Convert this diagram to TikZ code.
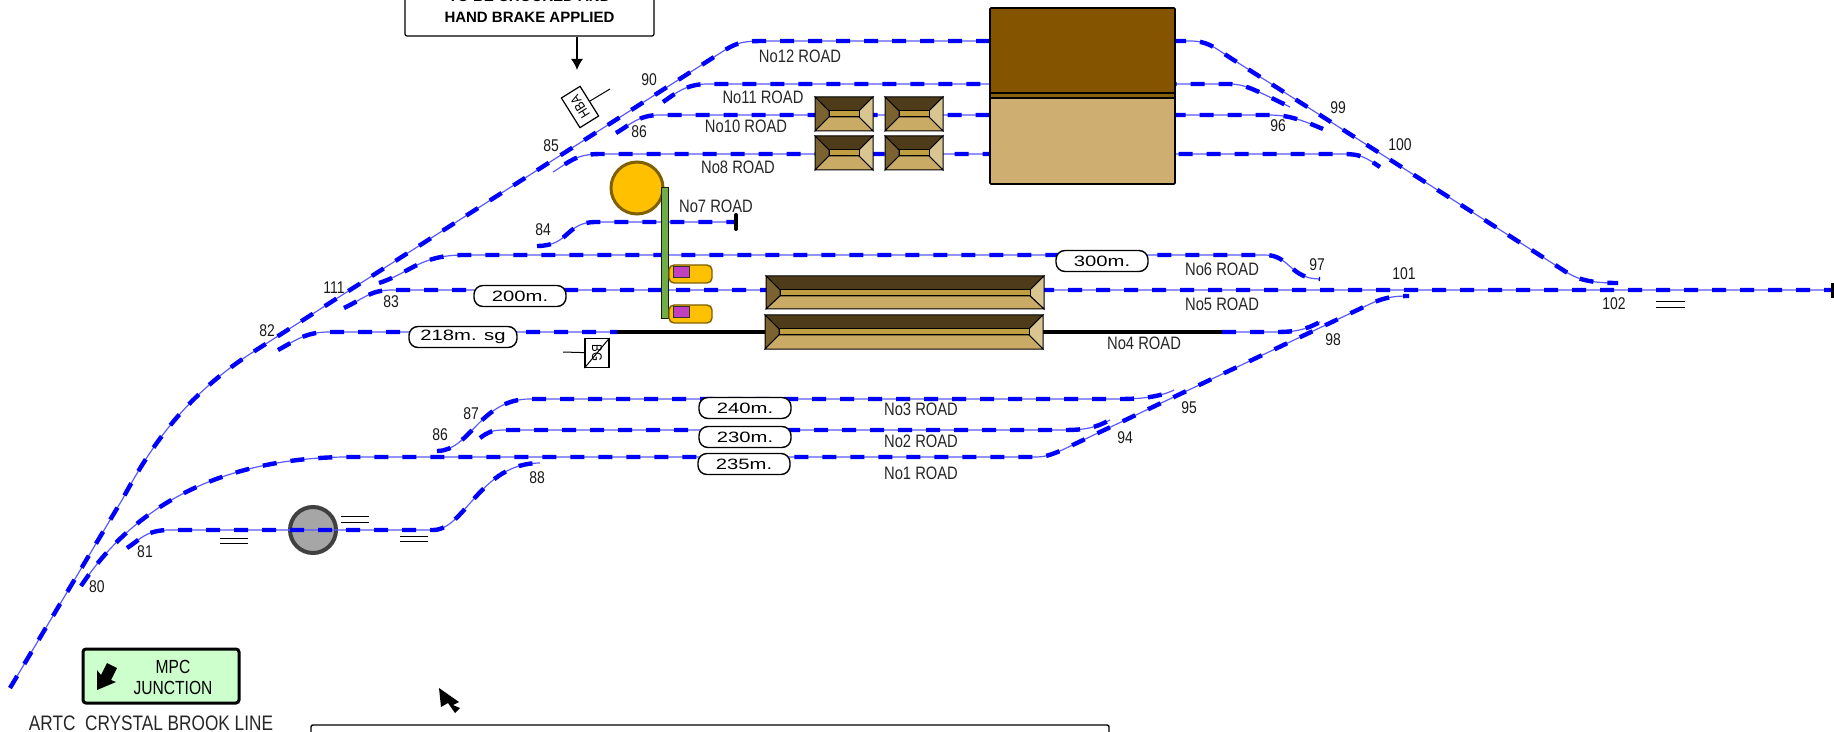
\documentclass[tikz,border=0pt]{standalone}
\usepackage{fontspec}
\usepackage{tikz}
\usetikzlibrary{arrows,arrows.meta,shapes,positioning,shapes.geometric}
\newfontfamily\roadfont[FakeStretch=0.82]{Liberation Sans}
\newfontfamily\widefont[FakeStretch=1.35]{Liberation Sans}
\newfontfamily\signfont{Liberation Sans}
\definecolor{trackblue}{RGB}{0,0,255}
\definecolor{shedbrown}{RGB}{133,84,0}
\definecolor{shedstrip}{RGB}{135,98,10}
\definecolor{shedtan}{RGB}{207,174,114}
\definecolor{bevtop}{RGB}{77,59,25}
\definecolor{bevleft}{RGB}{122,99,48}
\definecolor{bevright}{RGB}{217,197,143}
\definecolor{bevbot}{RGB}{201,171,102}
\definecolor{bevin}{RGB}{191,159,66}
\definecolor{tableyellow}{RGB}{255,192,0}
\definecolor{tablerim}{RGB}{127,96,0}
\definecolor{barpurple}{RGB}{192,64,192}
\definecolor{bargreen}{RGB}{112,173,71}
\definecolor{mintbox}{RGB}{204,255,204}
\newcommand{\bevelblock}[4]{%
    \path[draw=black, line width=.5pt, fill=bevtop] (#1,#2) -- ({#1+#3},#2) -- ({#1+#3-14},{#2+14}) -- ({#1+14},{#2+14}) -- cycle;
    \path[draw=black, line width=.5pt, fill=bevleft] (#1,#2) -- ({#1+14},{#2+14}) -- ({#1+14},{#2+20}) -- (#1,{#2+#4}) -- cycle;
    \path[draw=black, line width=.5pt, fill=bevright] ({#1+#3},#2) -- ({#1+#3-14},{#2+14}) -- ({#1+#3-14},{#2+20}) -- ({#1+#3},{#2+#4}) -- cycle;
    \path[draw=black, line width=.5pt, fill=bevbot] (#1,{#2+#4}) -- ({#1+14},{#2+20}) -- ({#1+#3-14},{#2+20}) -- ({#1+#3},{#2+#4}) -- cycle;
    \path[draw=black, line width=.5pt, fill=bevin] ({#1+14},{#2+14}) rectangle ({#1+#3-14},{#2+20});
}

\begin{document}
\begin{tikzpicture}[>=latex, x=.5pt, y=-.5pt]
    \tikzset{track/.style= {blue!65, line width=.6pt, postaction={draw, trackblue, line width=2.2pt, dash pattern=on 7pt off 7pt, dash phase=#1}}, track/.default=0pt }
    \tikzset{road/.style= {inner sep=0pt, text=black!85, font={\roadfont\fontsize{9}{10}\selectfont}} }
    \tikzset{point/.style= {inner sep=0pt, text=black!90, font={\roadfont\fontsize{8.5}{10}\selectfont}} }
    \tikzset{lengthbox/.style= {draw, fill=white, rounded corners=4.5pt, line width=.7pt, minimum width=46pt, minimum height=10.5pt, inner sep=0pt, font={\widefont\fontsize{7.5}{9}\selectfont}} }
    \tikzset{signbox/.style= {draw, fill=white, rounded corners=1pt, line width=.6pt, inner sep=0pt} }
    \tikzset{bars/.style= {line width=.5pt} }

    \path[use as bounding box, clip] (0,0) rectangle (1834,732);

    \node[circle, draw=black!75, line width=2pt, fill=black!35, minimum size=23pt, inner sep=0pt] (loco) at (313,530) {};

    % main line and roads
    \path[draw, track] (10,688) -- (122,500) .. controls (148,452) and (180,400) .. (250,354) -- (725,50) .. controls (738,42) and (745,41) .. (765,41) -- (1190,41) .. controls (1208,41) and (1215,48) .. (1229,57) -- (1563,270) .. controls (1578,280) and (1590,283) .. (1618,283);
    \path[draw, track] (663,102) .. controls (675,94) and (685,84) .. (708,84) -- (1229,84) .. controls (1245,84) and (1255,90) .. (1290,107);
    \path[draw, track] (616,133) .. controls (630,125) and (638,115) .. (660,115) -- (1266,115) .. controls (1285,115) and (1295,117) .. (1323,129);
    \path[draw, track=7pt] (553,172) .. controls (568,163) and (575,154) .. (600,154) -- (1343,154) .. controls (1360,154) and (1365,157) .. (1380,167);
    \path[draw, track] (537,246) .. controls (570,246) and (565,222) .. (596,222) -- (736,222);
    \path[draw, track] (379,283) .. controls (410,273) and (420,255) .. (464,255) -- (1265,255) .. controls (1290,255) and (1290,279) .. (1320,279);
    \path[draw, track] (344,308) .. controls (365,298) and (370,290) .. (393,290) -- (1834,290);
    \path[draw, track] (278,350) .. controls (295,341) and (305,332) .. (329,332) -- (617,332);
    \path[draw, track] (1222,332) -- (1276,332) .. controls (1295,332) and (1305,330) .. (1320,322);
    \path[draw, track] (437,451) .. controls (470,451) and (480,399) .. (530,399) -- (1120,399) .. controls (1140,399) and (1160,397) .. (1174,390);
    \path[draw, track] (480,438) .. controls (488,432) and (492,430) .. (505,430) -- (1064,430) .. controls (1085,430) and (1095,428) .. (1110,420);
    \path[draw, track] (81,586) .. controls (115,535) and (185,460) .. (343,457) -- (1035,457) .. controls (1045,457) and (1050,455) .. (1060,451) -- (1370,304) .. controls (1385,297) and (1395,296) .. (1409,296);
    \path[draw, track] (127,548) .. controls (140,540) and (145,530) .. (170,530) -- (433,530) .. controls (465,530) and (480,463) .. (540,463);

    \path[draw, line width=1.7pt] (617,332) -- (1222,332);
    \path[draw, line width=2pt, line cap=round] (736,215) -- (736,229);
    \path[draw, line width=2.5pt] (1833,283) -- (1833,298);

    % signal marks
    \path[draw, bars] (220,538) -- (248,538) (220,543) -- (248,543);
    \path[draw, bars] (341,516) -- (369,516) (341,522) -- (369,522);
    \path[draw, bars] (400,536) -- (428,536) (400,541) -- (428,541);
    \path[draw, bars] (1656,302) -- (1685,302) (1656,308) -- (1685,308);

    % shed
    \path[draw=black, line width=.8pt, rounded corners=.5pt, fill=shedbrown] (990,8) rectangle (1175,93);
    \path[draw=black, line width=.8pt, rounded corners=.5pt, fill=shedtan] (990,98) rectangle (1175,184);
    \path[draw=black, line width=.8pt, fill=shedstrip] (990,93) rectangle (1175,98);

    \bevelblock{815}{97}{58}{34}
    \bevelblock{885}{97}{58}{34}
    \bevelblock{815}{136}{58}{34}
    \bevelblock{885}{136}{58}{34}
    \bevelblock{766}{276}{278}{33}
    \bevelblock{765}{315}{278}{34}

    % turntable and stop board
    \node[circle, draw=tablerim, line width=1.5pt, fill=tableyellow, minimum size=26pt, inner sep=0pt] (table) at (637,188) {};
    \path[fill=bargreen, draw=black!90, line width=.45pt] (661,187) rectangle (668,318);

    \path[draw=tablerim, line width=.7pt, rounded corners=2.5pt, fill=tableyellow] (669,265) rectangle (712,283);
    \path[draw=black!80, line width=.5pt, fill=barpurple] (673,267) rectangle (689,278);
    \path[draw=tablerim, line width=.7pt, rounded corners=2.5pt, fill=tableyellow] (669,305) rectangle (712,323);
    \path[draw=black!80, line width=.5pt, fill=barpurple] (673,307) rectangle (689,318);

    % lengths
    \node[lengthbox] (len200) at (520,296) {200m.};
    \node[lengthbox, minimum width=54pt] (len218) at (463,337) {218m. sg};
    \node[lengthbox] (len300) at (1102,261) {300m.};
    \node[lengthbox] (len240) at (745,408) {240m.};
    \node[lengthbox] (len230) at (745,437) {230m.};
    \node[lengthbox] (len235) at (744,464) {235m.};

    % road names
    \node[road] (road12) at (800,56) {No12 ROAD};
    \node[road] (road11) at (763,97) {No11 ROAD};
    \node[road] (road10) at (746,126) {No10 ROAD};
    \node[road] (road8) at (738,167) {No8 ROAD};
    \node[road] (road7) at (716,206) {No7 ROAD};
    \node[road] (road6) at (1222,269) {No6 ROAD};
    \node[road] (road5) [below= 11pt of road6] {No5 ROAD};
    \node[road] (road4) at (1144,343) {No4 ROAD};
    \node[road] (road3) at (921,409) {No3 ROAD};
    \node[road] (road2) [below= 9.5pt of road3] {No2 ROAD};
    \node[road] (road1) [below= 9pt of road2] {No1 ROAD};

    % point numbers
    \node[point] (p90) at (649,80) {90};
    \node[point] (p85) at (551,146) {85};
    \node[point] (p86a) at (639,132) {86};
    \node[point] (p84) at (543,230) {84};
    \node[point] (p111) at (334,288) {111};
    \node[point] (p83) at (391,302) {83};
    \node[point] (p82) at (267,331) {82};
    \node[point] (p86b) at (440,435) {86};
    \node[point] (p87) at (471,414) {87};
    \node[point] (p88) at (537,478) {88};
    \node[point] (p81) at (145,552) {81};
    \node[point] (p80) at (97,587) {80};
    \node[point] (p94) at (1125,438) {94};
    \node[point] (p95) at (1189,408) {95};
    \node[point] (p96) at (1278,126) {96};
    \node[point] (p97) at (1317,265) {97};
    \node[point] (p98) at (1333,340) {98};
    \node[point] (p99) at (1338,108) {99};
    \node[point] (p100) at (1400,145) {100};
    \node[point] (p101) at (1404,274) {101};
    \node[point] (p102) at (1614,304) {102};

    % boards
    \node[signbox, minimum width=124.5pt, minimum height=29.5pt, align=center, font={\signfont\bfseries\fontsize{7.5}{10.5}\selectfont}] (brake) at (529.5,6.5) {TO BE CHOCKED AND\\HAND BRAKE APPLIED};
    \coordinate (hbaarrow) at (577,70);
    \path[draw, -{Latex[length=5.5pt,width=6pt]}, line width=.7pt] (brake.south -| hbaarrow) -- (hbaarrow);

    \node[draw, fill=white, line width=.6pt, rotate=122, minimum width=17.5pt, minimum height=11pt, inner sep=0pt, font={\roadfont\fontsize{7}{8}\selectfont}] (hba) at (580,107) {HBA};
    \coordinate (hbapost) at (610,89);
    \path[draw, line width=.5pt] (hba) -- (hbapost);

    \node[draw, fill=white, line width=.6pt, rotate=270, minimum width=14.5pt, minimum height=12pt, inner sep=0pt, font={\roadfont\fontsize{7}{8}\selectfont}] (bg) at (597,353) {BG};
    \coordinate (bgpost) at (563,352);
    \path[draw, line width=.5pt] (bg) -- (bgpost);
    \path[draw, line width=.5pt] (bg.north west) -- (bg.south east);

    % junction
    \node[draw, fill=mintbox, line width=1.5pt, rounded corners=1.5pt, minimum width=78pt, minimum height=27pt, inner sep=0pt] (mpc) at (161,676) {};
    \node[inner sep=0pt, align=center, font={\roadfont\fontsize{9.5}{10.5}\selectfont}] (mpctext) at (173,677) {MPC\\JUNCTION};
    \path[fill=black] (97,690) -- (97,670) -- (101,675) -- (107,663) -- (117,668) -- (111,680) -- (116,682) -- cycle;
    \node[inner sep=0pt, text=black!85, font={\roadfont\fontsize{10.5}{12}\selectfont}] (artc) at (151,723) {ARTC\ \ CRYSTAL BROOK LINE};

    \path[fill=black] (439,688) -- (459,702) -- (453,705) -- (460,708) -- (455,713) -- (448,703) -- (441,707) -- cycle;
    \path[draw, fill=white, line width=.7pt, rounded corners=1pt] (311,725) rectangle (1109,760);
\end{tikzpicture}
\end{document}
